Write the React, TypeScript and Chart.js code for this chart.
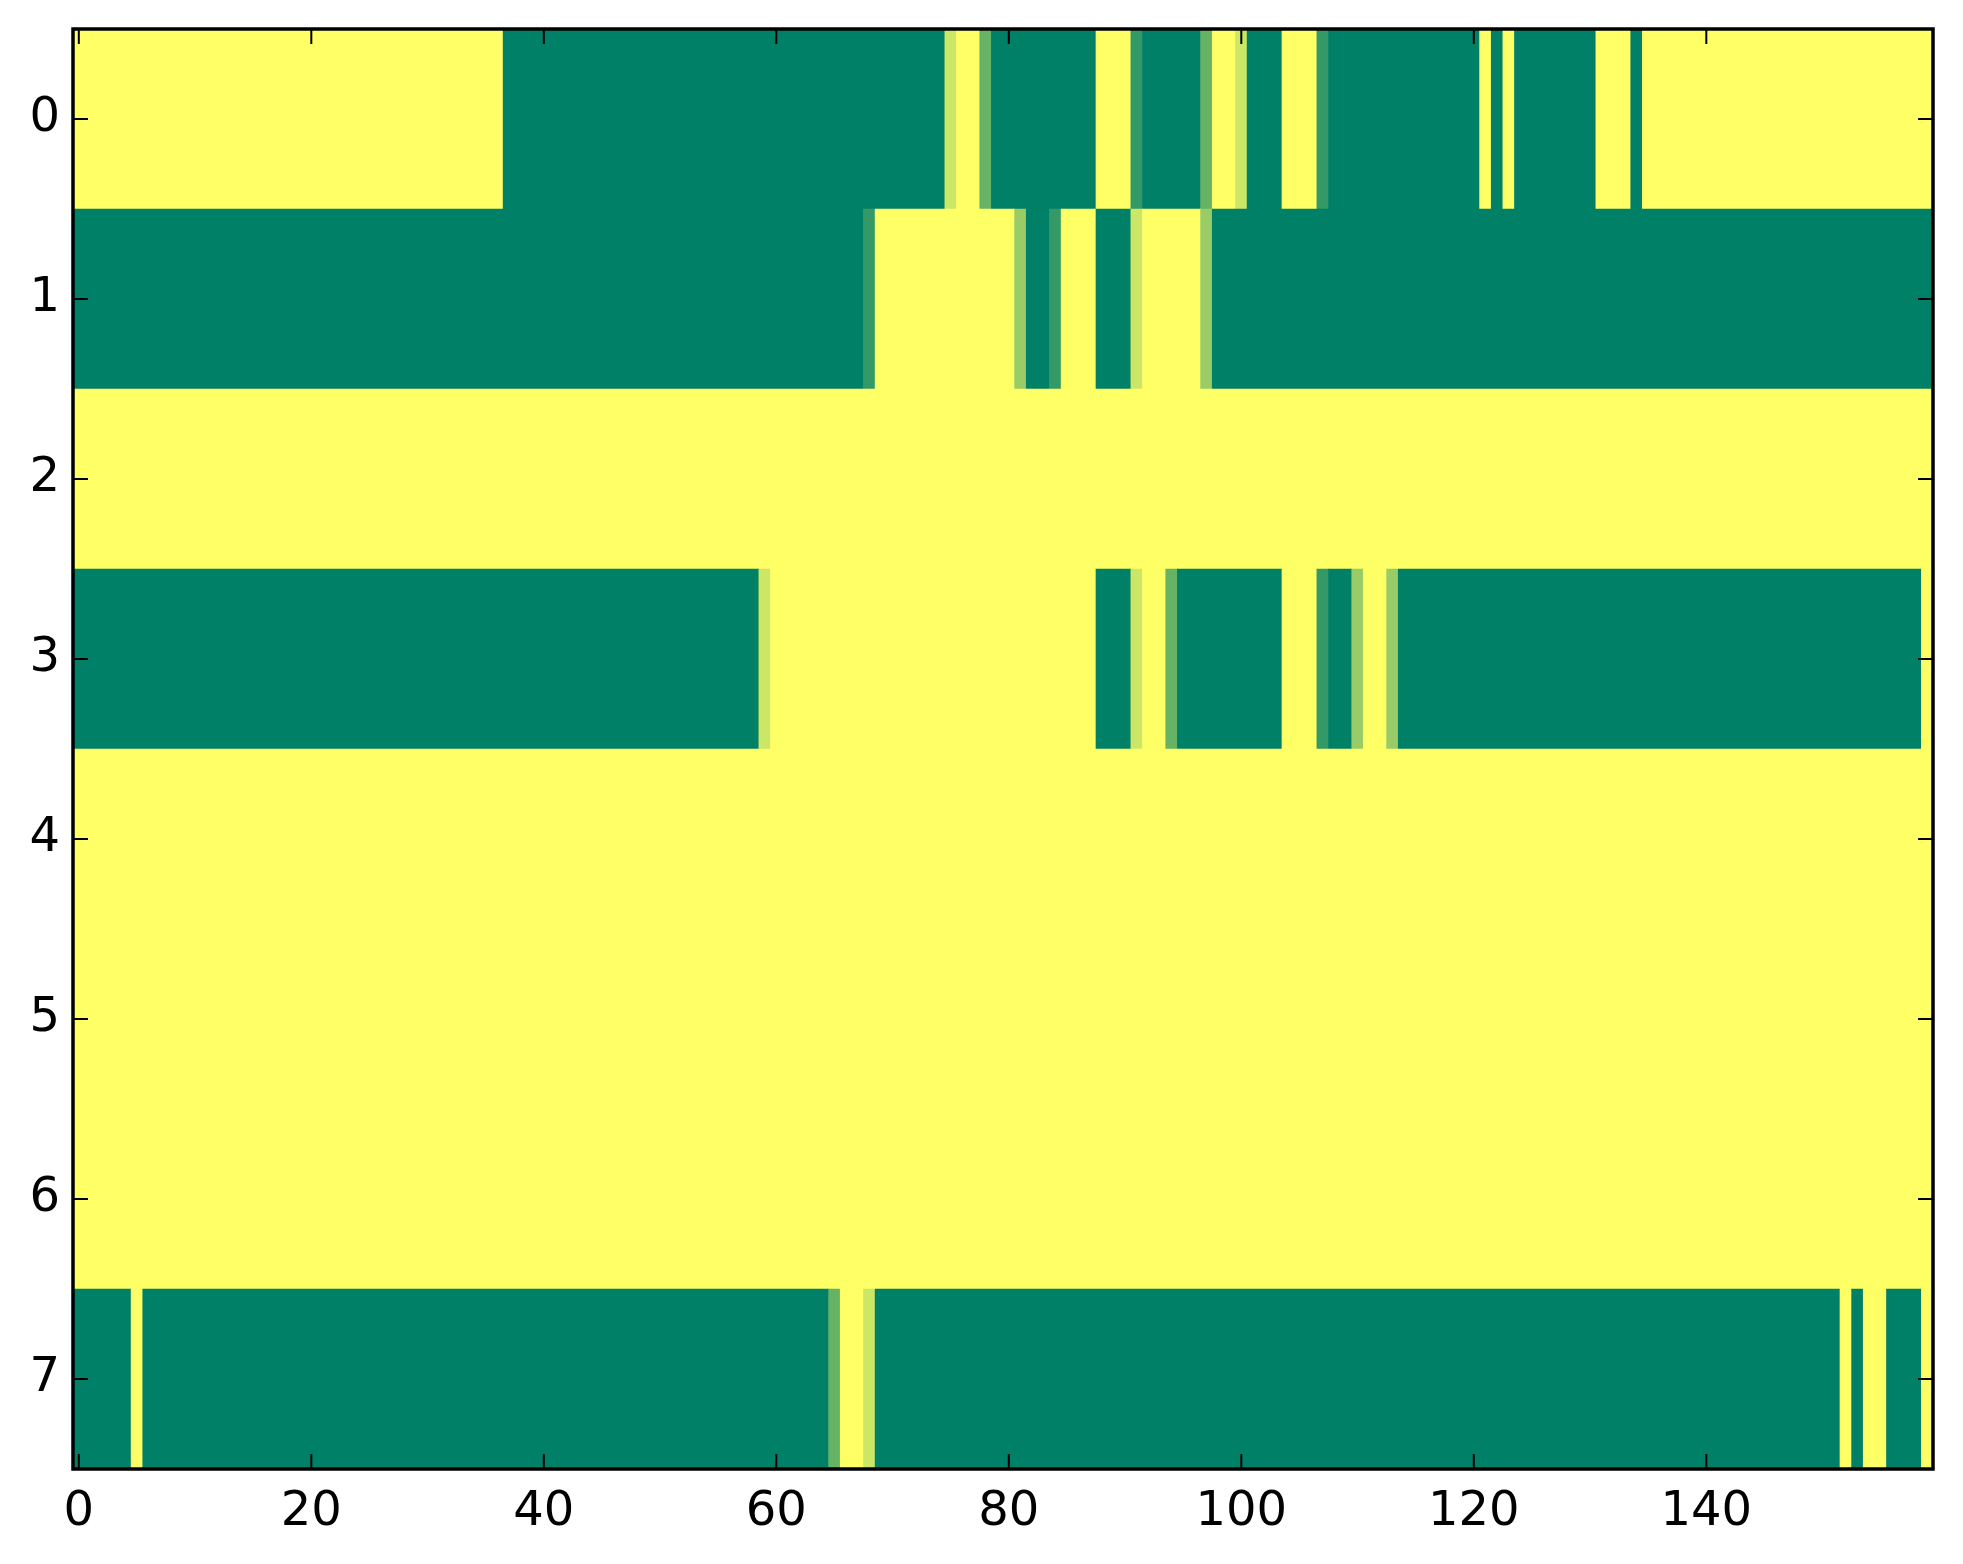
import React, { useEffect, useRef } from "react";
import { Chart, registerables } from "chart.js";

Chart.register(...registerables);

// Row labels (y axis) and x tick labels
const ROW_LABELS = [0, 1, 2, 3, 4, 5, 6, 7];
const X_TICKS = [0, 20, 40, 60, 80, 100, 120, 140];
const X_MIN = -0.5;
const X_MAX = 159.5;

// Each row as runs of equal value: [firstColumn, lastColumn, value in 0..1]
const row0: [number, number, number][] = [
  [0, 36, 1], [37, 74, 0], [75, 75, 0.8], [76, 77, 1], [78, 78, 0.4],
  [79, 87, 0], [88, 90, 1], [91, 91, 0.2], [92, 96, 0], [97, 97, 0.4],
  [98, 99, 1], [100, 100, 0.8], [101, 103, 0], [104, 106, 1], [107, 107, 0.2],
  [108, 120, 0], [121, 121, 1], [122, 122, 0], [123, 123, 1], [124, 130, 0],
  [131, 133, 1], [134, 134, 0], [135, 159, 1],
];
const row1: [number, number, number][] = [
  [0, 67, 0], [68, 68, 0.2], [69, 80, 1], [81, 81, 0.6], [82, 83, 0],
  [84, 84, 0.2], [85, 87, 1], [88, 90, 0], [91, 91, 0.8], [92, 96, 1],
  [97, 97, 0.6], [98, 159, 0],
];
const row2: [number, number, number][] = [[0, 159, 1]];
const row3: [number, number, number][] = [
  [0, 58, 0], [59, 59, 0.8], [60, 87, 1], [88, 90, 0], [91, 91, 0.8],
  [92, 93, 1], [94, 94, 0.4], [95, 103, 0], [104, 106, 1], [107, 107, 0.2],
  [108, 109, 0], [110, 110, 0.6], [111, 112, 1], [113, 113, 0.6],
  [114, 158, 0], [159, 159, 1],
];
const row4: [number, number, number][] = [[0, 159, 1]];
const row5: [number, number, number][] = [[0, 159, 1]];
const row6: [number, number, number][] = [[0, 159, 1]];
const row7: [number, number, number][] = [
  [0, 4, 0], [5, 5, 1], [6, 64, 0], [65, 65, 0.4], [66, 67, 1], [68, 68, 0.8],
  [69, 151, 0], [152, 152, 1], [153, 153, 0], [154, 155, 1], [156, 158, 0],
  [159, 159, 1],
];
const ROWS = [row0, row1, row2, row3, row4, row5, row6, row7];

// matplotlib "summer" colormap
function summer(v: number): string {
  const r = Math.round(255 * v);
  const g = Math.round(255 * (0.5 + 0.5 * v));
  const b = Math.round(255 * 0.4);
  return `rgb(${r},${g},${b})`;
}

const framePlugin = {
  id: "frame",
  afterDraw(chart: any) {
    const { ctx, chartArea, scales } = chart;
    const { left, right, top, bottom } = chartArea;
    const xs = scales.x;
    const ys = scales.y;
    const tl = 15;
    ctx.save();
    ctx.strokeStyle = "#000";
    ctx.lineWidth = 2;
    ctx.beginPath();
    xs.ticks.forEach((t: any) => {
      const px = xs.getPixelForValue(t.value);
      ctx.moveTo(px, bottom);
      ctx.lineTo(px, bottom - tl);
      ctx.moveTo(px, top);
      ctx.lineTo(px, top + tl);
    });
    ys.ticks.forEach((t: any) => {
      const py = ys.getPixelForValue(t.value);
      ctx.moveTo(left, py);
      ctx.lineTo(left + tl, py);
      ctx.moveTo(right, py);
      ctx.lineTo(right - tl, py);
    });
    ctx.stroke();
    ctx.lineWidth = 3.5;
    ctx.strokeRect(left, top, right - left, bottom - top);
    ctx.restore();
  },
};

export default function App() {
  const canvasRef = useRef<HTMLCanvasElement | null>(null);

  useEffect(() => {
    const canvas = canvasRef.current;
    if (!canvas) return;

    const points: any[] = [];
    const colors: string[] = [];
    ROWS.forEach((runs, r) => {
      runs.forEach(([s, e, v]) => {
        points.push({ x: [s - 0.5, e + 0.5], y: ROW_LABELS[r] });
        colors.push(summer(v));
      });
    });

    const tickFont = { family: "DejaVu Sans", size: 48 };

    const chart = new Chart(canvas, {
      type: "bar",
      data: {
        datasets: [
          {
            data: points,
            backgroundColor: colors,
            borderWidth: 0,
            barPercentage: 1,
            categoryPercentage: 1,
            grouped: false,
          } as any,
        ],
      },
      options: {
        indexAxis: "y",
        responsive: false,
        animation: false,
        devicePixelRatio: 1,
        layout: { padding: { top: 29, right: 30, left: 0, bottom: 0 } },
        plugins: {
          legend: { display: false },
          tooltip: { enabled: false },
        },
        scales: {
          x: {
            type: "linear",
            position: "bottom",
            min: X_MIN,
            max: X_MAX,
            offset: false,
            grid: { display: false, drawTicks: false },
            border: { display: false },
            afterBuildTicks: (s: any) => {
              s.ticks = X_TICKS.map((v) => ({ value: v }));
            },
            afterFit: (s: any) => {
              s.height = 95;
              s.paddingLeft = 0;
              s.paddingRight = 0;
            },
            ticks: {
              font: tickFont,
              color: "#000",
              padding: 15,
              maxRotation: 0,
              autoSkip: false,
              callback: (v: any) => String(v),
            },
          },
          y: {
            type: "linear",
            reverse: true,
            min: -0.5,
            max: ROW_LABELS.length - 0.5,
            offset: false,
            grid: { display: false, drawTicks: false, offset: false },
            border: { display: false },
            afterBuildTicks: (s: any) => {
              s.ticks = ROW_LABELS.map((v) => ({ value: v }));
            },
            afterFit: (s: any) => {
              s.width = 73;
              s.paddingTop = 0;
              s.paddingBottom = 0;
            },
            ticks: {
              font: tickFont,
              color: "#000",
              padding: 13,
              autoSkip: false,
              callback: (v: any) => String(v),
            },
          },
        } as any,
      },
      plugins: [framePlugin],
    });

    return () => chart.destroy();
  }, []);

  return (
    <div
      style={{
        position: "absolute",
        left: 0,
        top: 0,
        width: 1963,
        height: 1564,
        background: "#fff",
      }}
    >
      <canvas ref={canvasRef} width={1963} height={1564} style={{ display: "block" }} />
    </div>
  );
}
